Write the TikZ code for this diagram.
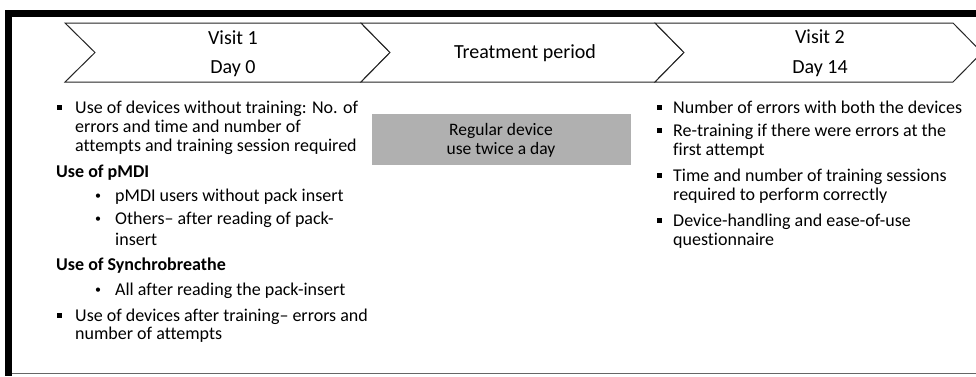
\documentclass[tikz,border=0pt]{standalone}
\usepackage{fontspec}
\setmainfont{Carlito}[Ligatures=NoCommon]
\tikzset{
  chev/.style={draw=black!85, line width=1pt, fill=white, line join=miter},
  head/.style={font=\fontsize{20}{22}\selectfont, inner sep=0pt, anchor=base},
  body/.style={font=\fontsize{18}{20}\selectfont, inner sep=0pt, anchor=base west},
  boxtext/.style={font=\fontsize{17.5}{20}\selectfont, inner sep=0pt, anchor=base},
  bodyb/.style={body, font=\fontsize{18}{20}\selectfont\bfseries},
  dot/.style={font=\fontsize{12}{14}\selectfont, inner sep=0pt, anchor=base west},
  sq/.style={fill=black, inner sep=0pt, minimum size=5pt},
}
\begin{document}
\begin{tikzpicture}[x=1pt,y=-1pt]
\useasboundingbox (0,0) rectangle (976,376);
\clip (0,0) rectangle (976,376);
\fill[white] (0,0) rectangle (976,376);
% frame
\draw[black!60, line width=1.2pt] (8,373.4) -- (976,373.4);
\draw[black, line width=7pt] (976,13.5) -- (8.5,13.5) -- (8.5,376);
% chevrons
\draw[chev] (65,23) -- (361,23) -- (390,52.5) -- (361,82) -- (65,82) -- (95,52.5) -- cycle;
\draw[chev] (361,23) -- (655,23) -- (684,52.5) -- (655,82) -- (361,82) -- (390,52.5) -- cycle;
\draw[chev] (655,23) -- (953,23) -- (982,52.5) -- (953,82) -- (655,82) -- (684,52.5) -- cycle;
\node[head] (v1) at (233,44.3) {Visit 1};
\node[head] (d0) at (233,73.3) {Day 0};
\node[head] (tp) at (525,58.5) {Treatment period};
\node[head] (v2) at (820,43.5) {Visit 2};
\node[head] (d14) at (820,73.3) {Day 14};
% gray box
\node[fill=black!31, minimum width=259pt, minimum height=51pt, inner sep=0pt] (box) at (501.5,139.5) {};
\node[boxtext] (b1) at (501,135) {Regular device};
\node[boxtext] (b2) at (501,154.5) {use twice a day};
% left column
\node[sq] (s1) at (59.5,107.5) {};
\node[body] (l1) at (75,113.3) {Use of devices without training: No. of};
\node[body] (l2) at (75,132.5) {errors and time and number of};
\node[body] (l3) at (75,151.8) {attempts and training session required};
\node[bodyb] (h1) at (56,177.3) {Use of pMDI};
\node[dot] (p1b) at (95,199.5) {•};
\node[body] (p1) at (115,201.3) {pMDI users without pack insert};
\node[dot] (p2b) at (95,222.5) {•};
\node[body] (p2) at (115,224.3) {Others– after reading of pack-};
\node[body] (p3) at (115,245.3) {insert};
\node[bodyb] (h2) at (56,270.3) {Use of Synchrobreathe};
\node[dot] (p4b) at (95,293.5) {•};
\node[body] (p4) at (115,295.3) {All after reading the pack-insert};
\node[sq] (s2) at (59.5,315.3) {};
\node[body] (l4) at (75,321.3) {Use of devices after training– errors and};
\node[body] (l5) at (75,339.5) {number of attempts};
% right column
\node[sq] (r1s) at (659,107.3) {};
\node[body] (r1) at (673,113.3) {Number of errors with both the devices};
\node[sq] (r2s) at (659,130) {};
\node[body] (r2) at (673,136) {Re-training if there were errors at the};
\node[body] (r3) at (673,155) {first attempt};
\node[sq] (r4s) at (659,175.7) {};
\node[body] (r4) at (673,181.7) {Time and number of training sessions};
\node[body] (r5) at (673,200.3) {required to perform correctly};
\node[sq] (r6s) at (659,220.5) {};
\node[body] (r6) at (673,226.5) {Device-handling and ease-of-use};
\node[body] (r7) at (673,245) {questionnaire};
\end{tikzpicture}
\end{document}
